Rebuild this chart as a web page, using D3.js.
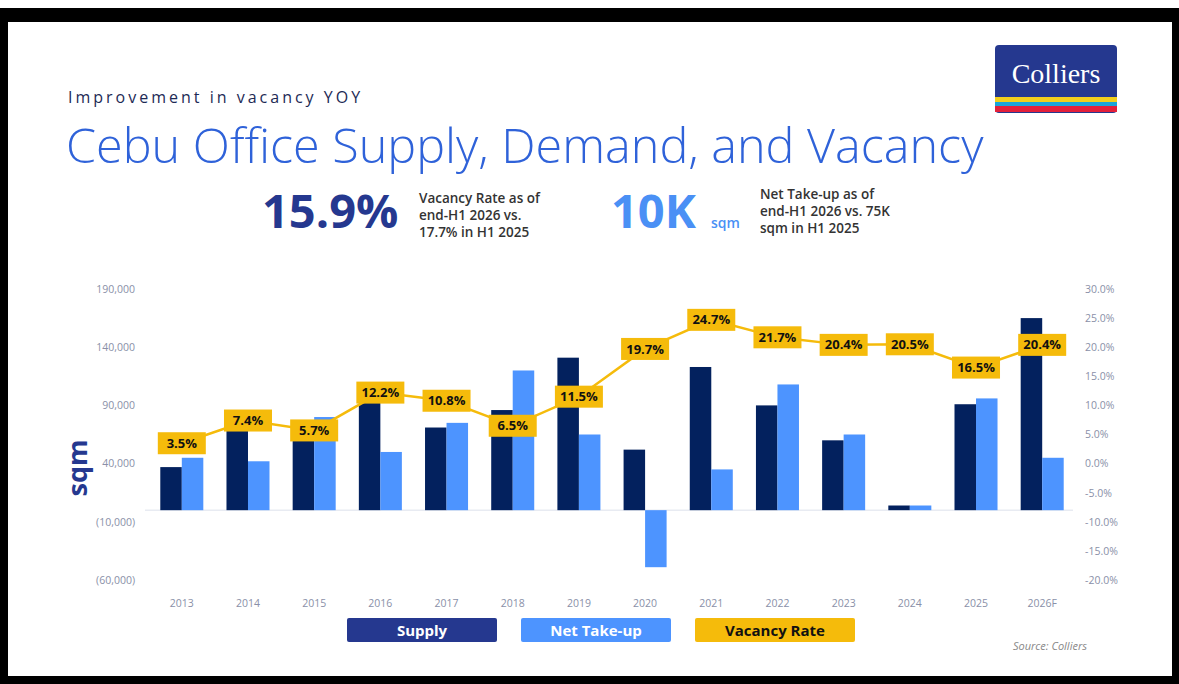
<!DOCTYPE html>
<html><head><meta charset="utf-8">
<script src="https://cdn.jsdelivr.net/npm/d3@7"></script>
<style>body{margin:0;background:#fff}text{font-family:"Open Sans",sans-serif}</style>
</head><body><svg id="c" width="1179" height="684"></svg>
<script>
const years=["2013","2014","2015","2016","2017","2018","2019","2020","2021","2022","2023","2024","2025","2026F"];
const supply=[37000,70000,66000,95000,71000,86000,131000,52000,123000,90000,60000,4000,91000,165000];
const netTakeup=[45000,42000,80000,50000,75000,120000,65000,-49000,35000,108000,65000,4000,96000,45000];
const vacancy=[3.5,7.4,5.7,12.2,10.8,6.5,11.5,19.7,24.7,21.7,20.4,20.5,16.5,20.4];
const leftTicks=[-60000,-10000,40000,90000,140000,190000];
const rightTicks=[-20,-15,-10,-5,0,5,10,15,20,25,30];

const svg=d3.select("#c");
svg.append("rect").attr("width",1179).attr("height",684).attr("fill","#000");
svg.append("rect").attr("width",1179).attr("height",8).attr("fill","#fff");
svg.append("rect").attr("x",8).attr("y",22).attr("width",1164).attr("height",654).attr("fill","#fff");

const lg=svg.append("g");
lg.append("rect").attr("x",995).attr("y",45).attr("width",122).attr("height",68).attr("rx",4).attr("fill","#25388f");
lg.append("rect").attr("x",995).attr("y",97).attr("width",122).attr("height",5).attr("fill","#f2cf1c");
lg.append("rect").attr("x",995).attr("y",102).attr("width",122).attr("height",4).attr("fill","#1aa5d8");
lg.append("rect").attr("x",995).attr("y",106).attr("width",122).attr("height",6).attr("fill","#e3203a");
lg.append("text").attr("x",1056).attr("y",83).attr("text-anchor","middle").attr("fill","#fff").attr("font-size",28).style("font-family","Liberation Serif,serif").text("Colliers");

svg.append("text").attr("x",68).attr("y",103).attr("font-size",16).attr("letter-spacing",3).attr("fill","#1d2a55").text("Improvement in vacancy YOY");
svg.append("text").attr("x",66).attr("y",163).attr("font-size",48.5).attr("font-weight",300).attr("fill","#2f62d9").text("Cebu Office Supply, Demand, and Vacancy");

svg.append("text").attr("x",262).attr("y",228).attr("font-size",47).attr("font-weight",700).attr("fill","#25388f").text("15.9%");
["Vacancy Rate as of","end-H1 2026 vs.","17.7% in H1 2025"].forEach((t,i)=>svg.append("text").attr("x",419).attr("y",203+i*17).attr("font-size",13.5).attr("font-weight",600).attr("fill","#333").text(t));
svg.append("text").attr("x",611).attr("y",228).attr("font-size",47).attr("font-weight",700).attr("fill","#4a90f5").text("10K");
svg.append("text").attr("x",711).attr("y",228).attr("font-size",14).attr("font-weight",600).attr("fill","#4a90f5").text("sqm");
["Net Take-up as of","end-H1 2026 vs. 75K","sqm in H1 2025"].forEach((t,i)=>svg.append("text").attr("x",760).attr("y",199+i*17).attr("font-size",13.5).attr("font-weight",600).attr("fill","#333").text(t));

const x=d3.scaleBand().domain(years).range([155,1069]).paddingInner(0.35).paddingOuter(0.08);
const yL=d3.scaleLinear().domain([-60000,190000]).range([580,289]);
const yR=d3.scaleLinear().domain([-20,30]).range([580,289]);
const bw=x.bandwidth()/2;

const la=svg.append("g").attr("transform","translate(138,0)").call(d3.axisLeft(yL).tickValues(leftTicks).tickSize(0).tickFormat(d=>d<0?"("+d3.format(",")(-d)+")":d3.format(",")(d)));
const ra=svg.append("g").attr("transform","translate(1082,0)").call(d3.axisRight(yR).tickValues(rightTicks).tickSize(0).tickFormat(d=>d.toFixed(1)+"%"));
const xa=svg.append("g").attr("transform","translate(0,597)").call(d3.axisBottom(x).tickSize(0));
[la,ra,xa].forEach(a=>{a.select(".domain").remove();a.selectAll("text").attr("fill","#8a90a8").attr("font-size",10.5).style("font-family","Open Sans");});

svg.append("line").attr("x1",145).attr("x2",1073).attr("y1",yL(0)).attr("y2",yL(0)).attr("stroke","#e8ebf2").attr("stroke-width",1.5);

svg.append("g").selectAll("rect").data(years).join("rect").attr("x",d=>x(d)).attr("width",bw)
 .attr("y",(d,i)=>yL(Math.max(0,supply[i]))).attr("height",(d,i)=>Math.abs(yL(supply[i])-yL(0))).attr("fill","#03215e");
svg.append("g").selectAll("rect").data(years).join("rect").attr("x",d=>x(d)+bw).attr("width",bw)
 .attr("y",(d,i)=>yL(Math.max(0,netTakeup[i]))).attr("height",(d,i)=>Math.abs(yL(netTakeup[i])-yL(0))).attr("fill","#4d94ff");

const cx=d=>x(d)+x.bandwidth()/2;
svg.append("path").datum(vacancy).attr("fill","none").attr("stroke","#f5bb0b").attr("stroke-width",2.5)
 .attr("d",d3.line().x((d,i)=>cx(years[i])).y(d=>yR(d)));
const lb=svg.append("g").selectAll("g").data(vacancy).join("g").attr("transform",(d,i)=>`translate(${cx(years[i])},${yR(d)})`);
lb.append("rect").attr("x",-24).attr("y",-11).attr("width",48).attr("height",22).attr("fill","#f5bb0b");
lb.append("text").attr("text-anchor","middle").attr("dy","0.35em").attr("font-size",13).attr("font-weight",700).attr("fill","#111").text(d=>d.toFixed(1)+"%");

svg.append("text").attr("transform","translate(87,468) rotate(-90)").attr("text-anchor","middle").attr("font-size",27).attr("font-weight",700).attr("fill","#25388f").text("sqm");

const leg=[["Supply","#25388f","#fff",347,150],["Net Take-up","#4d94ff","#fff",521,150],["Vacancy Rate","#f5bb0b","#111",695,160]];
leg.forEach(([t,c,tc,lx,w])=>{svg.append("rect").attr("x",lx).attr("y",618).attr("width",w).attr("height",24).attr("rx",2).attr("fill",c);
 svg.append("text").attr("x",lx+w/2).attr("y",636).attr("text-anchor","middle").attr("font-size",15).attr("font-weight",700).attr("fill",tc).text(t);});
svg.append("text").attr("x",1087).attr("y",650).attr("text-anchor","end").attr("font-size",11).attr("font-style","italic").attr("fill","#888").text("Source: Colliers");
</script></body></html>
